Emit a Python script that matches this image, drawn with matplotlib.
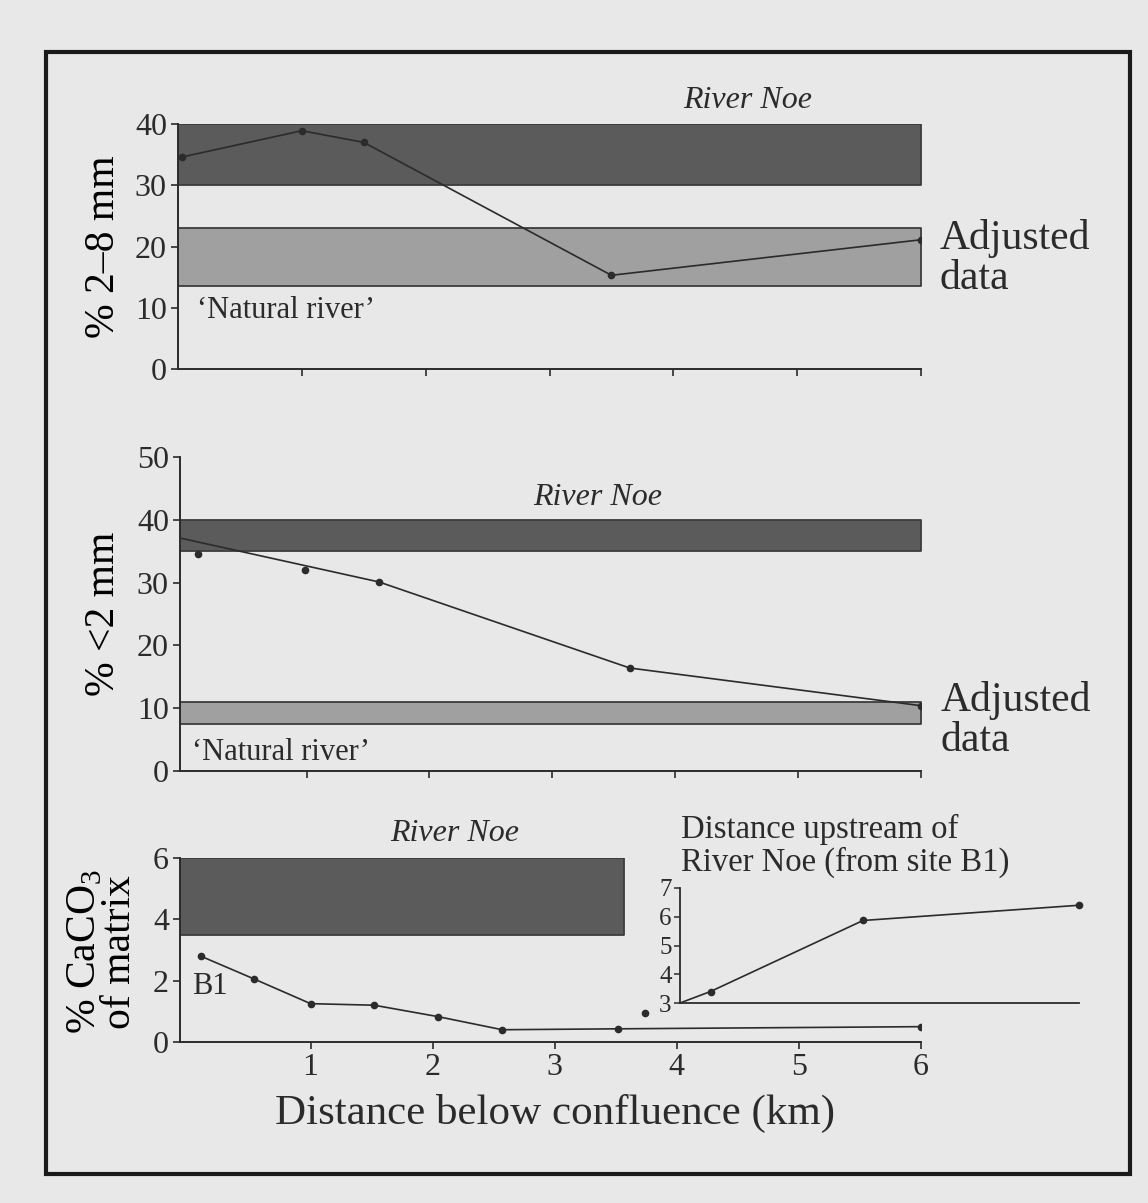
import matplotlib
matplotlib.use("Agg")
import matplotlib.pyplot as plt
from matplotlib.patches import Rectangle

# % 2-8 mm fraction
km_2_8 = [0.03, 1.0, 1.5, 3.5, 6.0]
pct_2_8 = [34.6, 38.9, 37.0, 15.3, 21.1]
noe_band_2_8 = (30, 40)
natural_band_2_8 = (13.5, 23)

# % <2 mm fraction (points + drawn trend)
km_lt2 = [0.12, 0.99, 1.59, 3.63, 6.0]
pct_lt2 = [34.5, 32.0, 30.1, 16.4, 10.4]
km_lt2_line = [-0.03, 1.59, 3.63, 6.0]
pct_lt2_line = [37.1, 30.1, 16.4, 10.4]
noe_band_lt2 = (35, 40)
natural_band_lt2 = (7.5, 11)

# % CaCO3 of matrix
km_caco3 = [0.10, 0.54, 1.0, 1.52, 2.04, 2.57, 3.52, 6.0]
pct_caco3 = [2.8, 2.05, 1.25, 1.2, 0.83, 0.4, 0.43, 0.5]
km_caco3_extra = [3.74]
pct_caco3_extra = [0.93]
noe_band_caco3 = (3.5, 6)
noe_band_caco3_end = 3.57

# inset: distance upstream of River Noe (from site B1)
upstream_km = [0.0, 0.25, 1.5, 3.27]
upstream_caco3 = [3.0, 3.4, 5.87, 6.4]

x_ticks = [1, 2, 3, 4, 5, 6]
y_ticks_2_8 = [0, 10, 20, 30, 40]
y_ticks_lt2 = [0, 10, 20, 30, 40, 50]
y_ticks_caco3 = [0, 2, 4, 6]
y_ticks_inset = [3, 4, 5, 6, 7]

BG = "#e8e8e8"
INK = "#2b2b2b"
DARK = "#5b5b5b"
LIGHT = "#a0a0a0"
EDGE = "#3c3c3c"

plt.rcParams["font.family"] = ["Liberation Serif", "DejaVu Serif"]
plt.rcParams["mathtext.fontset"] = "custom"
plt.rcParams["mathtext.rm"] = "Liberation Serif"
plt.rcParams["text.color"] = INK
plt.rcParams["axes.edgecolor"] = INK
plt.rcParams["xtick.color"] = INK
plt.rcParams["ytick.color"] = INK

W, H = 1148, 1203


def fig_rect(left, top, right, bottom):
    # pixel box -> figure fraction [l, b, w, h]
    return [left / W, 1 - bottom / H, (right - left) / W, (bottom - top) / H]


def style_axis(ax, xlim, ylim, yticks, show_xlabels=False):
    ax.set_facecolor("none")
    ax.set_xlim(*xlim)
    ax.set_ylim(*ylim)
    for s in ("top", "right"):
        ax.spines[s].set_visible(False)
    for s in ("left", "bottom"):
        ax.spines[s].set_linewidth(1.4)
    ax.set_xticks(x_ticks)
    ax.set_yticks(yticks)
    ax.tick_params(direction="out", length=5, width=1.2, labelsize=23, pad=3)
    if not show_xlabels:
        ax.set_xticklabels([])


def band(ax, x0, x1, lo_hi, color):
    ax.fill_between([x0, x1], lo_hi[0], lo_hi[1], facecolor=color,
                    edgecolor=EDGE, linewidth=1.3, zorder=1)


def series(ax, x, y, **kw):
    ax.plot(x, y, color=INK, linewidth=1.2, marker="o", markersize=4.5,
            zorder=3, **kw)


def create_plot():
    fig = plt.figure(figsize=(W / 100, H / 100), dpi=100, facecolor=BG)

    # frame around figure
    fig.patches.append(Rectangle((46 / W, 1 - 1174 / H), 1084 / W, 1122 / H,
                                 transform=fig.transFigure, fill=False,
                                 edgecolor="#1a1a1a", linewidth=3))

    # top panel: % 2-8 mm
    ax1 = fig.add_axes(fig_rect(178, 124, 921, 369))
    style_axis(ax1, (0, 6), (0, 40), y_ticks_2_8)
    band(ax1, 0, 6, noe_band_2_8, DARK)
    band(ax1, 0, 6, natural_band_2_8, LIGHT)
    series(ax1, km_2_8, pct_2_8)
    ax1.text(4.6, 43.9, "River Noe", style="italic", fontsize=23,
             ha="center", va="center", clip_on=False)
    ax1.text(0.15, 9.6, "\u2018Natural river\u2019", fontsize=22,
             ha="left", va="center")
    ax1.text(6.15, 18.1, "Adjusted\ndata", fontsize=30, ha="left",
             va="center", linespacing=1.05, clip_on=False)
    ax1.set_ylabel("% 2\u20138 mm", fontsize=30)
    ax1.yaxis.set_label_coords(-0.074, 0.5)

    # middle panel: % <2 mm
    ax2 = fig.add_axes(fig_rect(180, 457, 921, 771))
    style_axis(ax2, (-0.03, 6), (0, 50), y_ticks_lt2)
    band(ax2, -0.03, 6, noe_band_lt2, DARK)
    band(ax2, -0.03, 6, natural_band_lt2, LIGHT)
    ax2.plot(km_lt2_line, pct_lt2_line, color=INK, linewidth=1.2, zorder=3)
    ax2.plot(km_lt2, pct_lt2, linestyle="none", marker="o", markersize=4.5,
             color=INK, zorder=4)
    ax2.text(3.37, 43.5, "River Noe", style="italic", fontsize=23,
             ha="center", va="center")
    ax2.text(0.07, 3.0, "\u2018Natural river\u2019", fontsize=22,
             ha="left", va="center")
    ax2.text(6.16, 8.0, "Adjusted\ndata", fontsize=30, ha="left",
             va="center", linespacing=1.05, clip_on=False)
    ax2.set_ylabel("% <2 mm", fontsize=30)
    ax2.yaxis.set_label_coords(-0.077, 0.5)

    # bottom panel: % CaCO3
    ax3 = fig.add_axes(fig_rect(180, 858, 921, 1042))
    style_axis(ax3, (-0.07, 6), (0, 6), y_ticks_caco3, show_xlabels=True)
    band(ax3, -0.07, noe_band_caco3_end, noe_band_caco3, DARK)
    series(ax3, km_caco3, pct_caco3)
    ax3.plot(km_caco3_extra, pct_caco3_extra, linestyle="none", marker="o",
             markersize=4.5, color=INK, zorder=3)
    ax3.text(2.18, 6.8, "River Noe", style="italic", fontsize=23,
             ha="center", va="center", clip_on=False)
    ax3.text(0.03, 1.8, "B1", fontsize=22, ha="left", va="center")
    ax3.set_ylabel("% CaCO$_3$\nof matrix", fontsize=30, linespacing=0.9)
    ax3.yaxis.set_label_coords(-0.055, 0.49)

    fig.text(555 / W, 1 - 1113 / H, "Distance below confluence (km)",
             fontsize=31, ha="center", va="center")

    # inset
    axi = fig.add_axes(fig_rect(680, 888, 1079, 1003))
    axi.set_facecolor("none")
    axi.set_xlim(0, 3.27)
    axi.set_ylim(3, 7)
    for s in ("top", "right"):
        axi.spines[s].set_visible(False)
    for s in ("left", "bottom"):
        axi.spines[s].set_linewidth(1.3)
    axi.set_xticks([])
    axi.set_yticks(y_ticks_inset)
    axi.tick_params(direction="out", length=4, width=1.1, labelsize=18,
                    pad=2)
    axi.plot(upstream_km, upstream_caco3, color=INK, linewidth=1.2,
             marker="o", markersize=4.5, markevery=[1, 2, 3], zorder=3,
             clip_on=False)
    fig.text(681 / W, 1 - 846 / H, "Distance upstream of\nRiver Noe (from site B1)",
             fontsize=23.5, ha="left", va="center", linespacing=1.05)

    fig.savefig("out.png", dpi=100, facecolor=BG)


def main():
    create_plot()


if __name__ == "__main__":
    main()
